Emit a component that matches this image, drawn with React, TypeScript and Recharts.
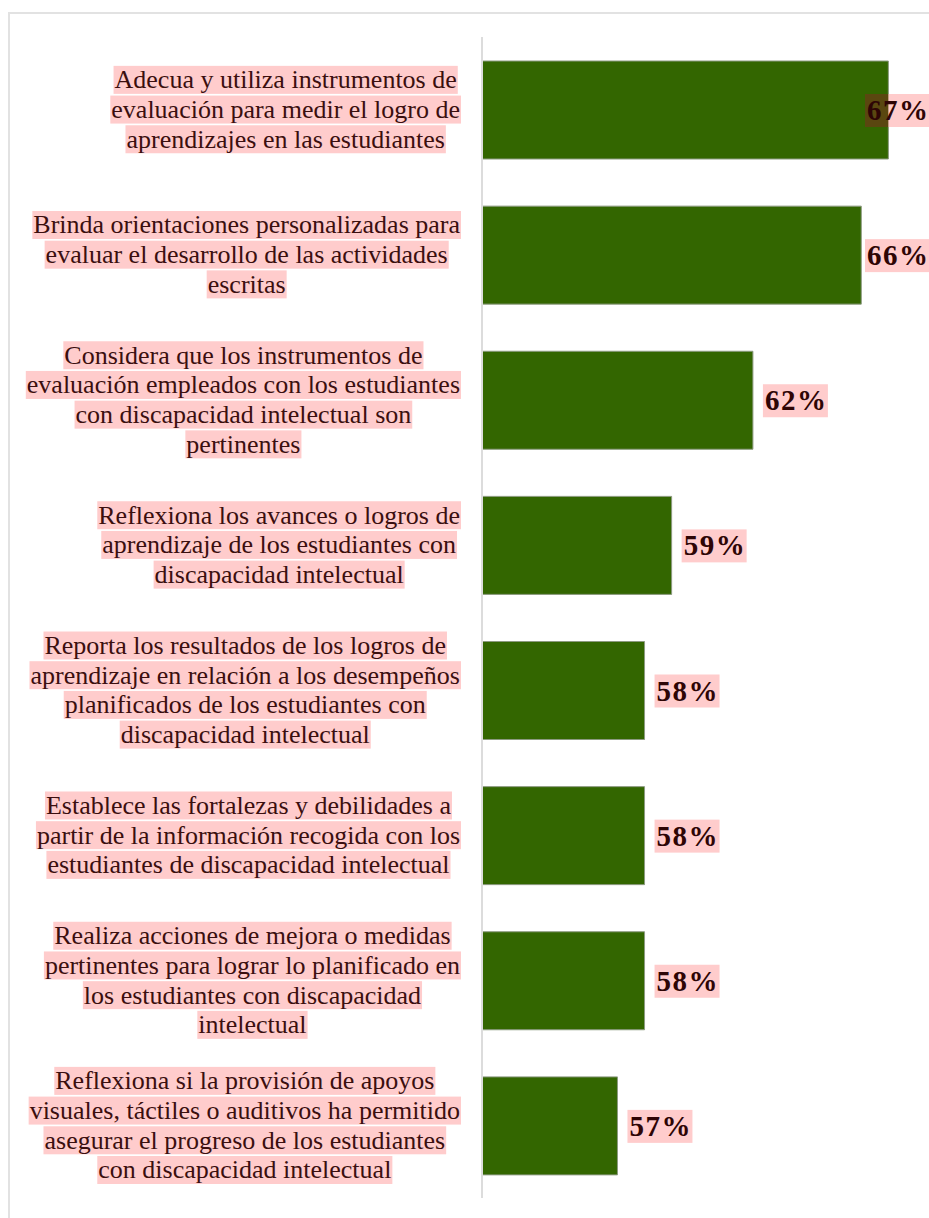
import { BarChart, Bar, XAxis, YAxis, LabelList } from "recharts";

const categories = [
  "Adecua y utiliza instrumentos de\nevaluación para medir el logro de\naprendizajes en las estudiantes",
  "Brinda orientaciones personalizadas para\nevaluar el desarrollo de las actividades\nescritas",
  "Considera que los instrumentos de\nevaluación empleados con los estudiantes\ncon discapacidad intelectual son\npertinentes",
  "Reflexiona los avances o logros de\naprendizaje de los estudiantes con\ndiscapacidad intelectual",
  "Reporta los resultados de los logros de\naprendizaje en relación a los desempeños\nplanificados de los estudiantes con\ndiscapacidad intelectual",
  "Establece las fortalezas y debilidades a\npartir de la información recogida con los\nestudiantes de discapacidad intelectual",
  "Realiza acciones de mejora o medidas\npertinentes para lograr lo planificado en\nlos estudiantes con discapacidad\nintelectual",
  "Reflexiona si la provisión de apoyos\nvisuales, táctiles o auditivos ha permitido\nasegurar el progreso de los estudiantes\ncon discapacidad intelectual",
];
const values = [67, 66, 62, 59, 58, 58, 58, 57];

const data = categories.map((name, i) => ({ name, value: values[i] }));

const W = 929;
const H = 1218;
const SERIF = "'Liberation Serif', 'Times New Roman', serif";
const CAT_FONT = 26;
const VAL_FONT = 29;
const VAL_SPACING = 1.5;
const LINE_H = 29.7;
const TEXT_RIGHT = 460;
const PINK = "#ffcccc";

let ctx: CanvasRenderingContext2D | null = null;
function measure(s: string, font: string) {
  if (!ctx) ctx = document.createElement("canvas").getContext("2d");
  if (!ctx) return s.length * 11;
  ctx.font = font;
  return ctx.measureText(s).width;
}

function CategoryTick(props: any) {
  const { y, payload } = props;
  const lines: string[] = String(payload.value).split("\n");
  const font = `${CAT_FONT}px ${SERIF}`;
  const widths = lines.map((l) => measure(l, font));
  const maxW = Math.max(...widths);
  const cx = TEXT_RIGHT - maxW / 2;
  const y0 = y - ((lines.length - 1) / 2) * LINE_H;
  return (
    <g>
      {lines.map((l, i) => {
        const cy = y0 + i * LINE_H;
        return (
          <g key={i}>
            <rect x={cx - widths[i] / 2 - 1} y={cy - 14} width={widths[i] + 2} height={28} fill={PINK} />
            <text
              x={cx}
              y={cy + 8.5}
              textAnchor="middle"
              fontFamily={SERIF}
              fontSize={CAT_FONT}
              fill="#3b0f0f"
            >
              {l}
            </text>
          </g>
        );
      })}
    </g>
  );
}

function ValueLabel(props: any) {
  const { x, y, width, height, value } = props;
  const txt = `${value}%`;
  const tw = measure(txt, `bold ${VAL_FONT}px ${SERIF}`) + VAL_SPACING * (txt.length - 1);
  const barEnd = x + width;
  const lx = Math.min(barEnd + 12, W - tw - 1);
  const cy = y + height / 2;
  const overlap = Math.max(0, barEnd - (lx - 2));
  return (
    <g>
      <rect x={lx - 2} y={cy - 16} width={tw + 4} height={33} fill={PINK} />
      {overlap > 0 && (
        <rect x={lx - 2} y={cy - 16} width={overlap} height={33} fill="#5a4710" />
      )}
      <text
        x={lx}
        y={cy + 10}
        fontFamily={SERIF}
        fontSize={VAL_FONT}
        fontWeight="bold"
        letterSpacing={VAL_SPACING}
        fill="#2e0505"
      >
        {txt}
      </text>
    </g>
  );
}

export default function App() {
  return (
    <div style={{ position: "absolute", left: 0, top: 0, width: W, height: H, background: "#fff" }}>
      <div
        style={{
          position: "absolute",
          left: 8,
          top: 12,
          right: 0,
          bottom: 0,
          borderTop: "2px solid #e2e2e2",
          borderLeft: "2px solid #e2e2e2",
        }}
      />
      <div style={{ position: "absolute", left: 0, top: 0 }}>
        <BarChart
          width={W}
          height={H}
          data={data}
          layout="vertical"
          margin={{ top: 37, right: 0, bottom: 20, left: 0 }}
          barSize={98}
        >
          <XAxis type="number" domain={[52, 68.5]} hide allowDataOverflow />
          <YAxis
            type="category"
            dataKey="name"
            width={482}
            axisLine={{ stroke: "#dcdcdc", strokeWidth: 2 }}
            tickLine={false}
            tick={<CategoryTick />}
            interval={0}
          />
          <Bar dataKey="value" fill="#336600" stroke="#8c9a80" strokeWidth={1} isAnimationActive={false}>
            <LabelList dataKey="value" content={<ValueLabel />} />
          </Bar>
        </BarChart>
      </div>
    </div>
  );
}
